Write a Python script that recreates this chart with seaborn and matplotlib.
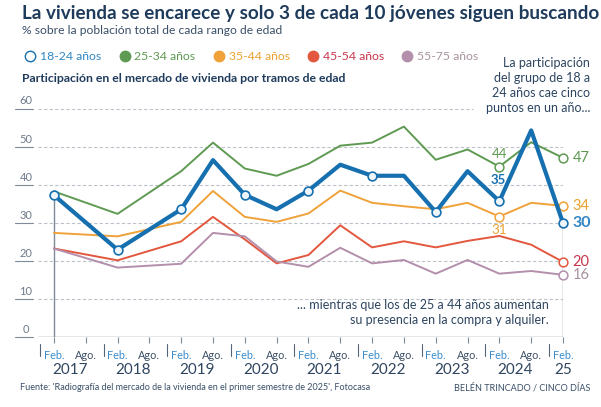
import numpy as np
import pandas as pd
import matplotlib.pyplot as plt
import seaborn as sns
from matplotlib.lines import Line2D
from matplotlib.transforms import blended_transform_factory

# datos (% sobre la población de cada tramo)
periods = ["2017-02", "2018-02", "2019-02", "2019-08", "2020-02", "2020-08",
           "2021-02", "2021-08", "2022-02", "2022-08", "2023-02", "2023-08",
           "2024-02", "2024-08", "2025-02"]
p18_24 = [37.3, 23.0, 33.6, 46.5, 37.4, 33.6, 38.5, 45.3, 42.4, 42.4, 32.9, 43.6, 35.7, 54.3, 30.0]
p25_34 = [38.3, 32.4, 43.6, 51.1, 44.3, 42.4, 45.5, 50.3, 51.1, 55.3, 46.6, 49.3, 44.8, 51.2, 47.1]
p35_44 = [27.4, 26.5, 30.3, 38.4, 31.6, 30.3, 32.5, 38.5, 35.3, 34.4, 33.6, 35.3, 31.7, 35.3, 34.5]
p45_54 = [23.3, 20.2, 25.2, 31.6, 25.7, 19.4, 21.6, 29.4, 23.6, 25.2, 23.6, 25.3, 26.6, 24.3, 19.8]
p55_75 = [23.3, 18.3, 19.3, 27.4, 26.5, 19.9, 18.5, 23.5, 19.4, 20.3, 16.7, 20.3, 16.7, 17.4, 16.4]

groups = ["18-24 años", "25-34 años", "35-44 años", "45-54 años", "55-75 años"]
end_labels = ["30", "47", "34", "20", "16"]
tick_labels = ["Feb.", "Ago."] * 8 + ["Feb."]
year_labels = ["2017", "2018", "2019", "2020", "2021", "2022", "2023", "2024", "25"]
yticks = [0, 10, 20, 30, 40, 50, 60]

line_colors = ["#1670b0", "#5f9a52", "#f0a23a", "#e2573d", "#b38fab"]
text_colors = ["#2f86c4", "#5f9a52", "#e9a12f", "#c8364c", "#a8929f"]
navy = "#1f3b5c"
grey = "#7f8a98"

t = [(int(p[:4]) - 2017) * 2 + (1 if p[5:] == "08" else 0) for p in periods]
df = pd.concat([pd.DataFrame({"t": t, "valor": v, "grupo": g})
                for g, v in zip(groups, [p18_24, p25_34, p35_44, p45_54, p55_75])])

sns.set_style("white")
plt.rcParams["font.family"] = ["Lato", "DejaVu Sans"]

W, H = 601, 407
fig = plt.figure(figsize=(W / 100, H / 100), dpi=100)
fx = lambda px: px / W
fy = lambda py: 1 - py / H
ax = fig.add_axes([fx(38), fy(337.3), fx(563 - 38), (337.3 - 108.7) / H])
ax.set_xlim(-0.5, 16)
ax.set_ylim(0, 60)
for s in ax.spines.values():
    s.set_visible(False)

# rejilla y etiquetas del eje y
by = blended_transform_factory(fig.transFigure, ax.transData)
for v in yticks:
    if v == 0:
        ax.axhline(0, color=grey, lw=1.0, zorder=1)
    else:
        xmax = (473 - 38) / 525 if v == 60 else 1
        ax.axhline(v, xmax=xmax, color="#bcc2cb", lw=0.8, ls=(0, (3, 2)), zorder=0)
    ax.plot([fx(15), fx(33)], [v, v], transform=by, color=grey, lw=0.8, clip_on=False)
    ax.text(fx(26), v + 0.6, str(v), transform=by, ha="center", va="bottom",
            fontsize=8, color="#6d7a8a")

# líneas verticales de inicio y final
ax.vlines([t[0], t[-1]], 0, [p18_24[0], p18_24[-1]], color=grey, lw=1.0, zorder=1)

# series
for i, g in enumerate(groups):
    d = df[df["grupo"] == g]
    sns.lineplot(data=d, x="t", y="valor", ax=ax, color=line_colors[i],
                 lw=3.0 if i == 0 else 1.4, legend=False, zorder=5 if i == 0 else 3,
                 clip_on=False)

# marcadores huecos
feb = df[(df["grupo"] == groups[0]) & (df["t"] % 2 == 0)]
ax.scatter(feb["t"], feb["valor"], s=40, facecolor="#eef5fb", edgecolor=line_colors[0],
           lw=1.2, zorder=6, clip_on=False)
for i, g in enumerate(groups[1:], start=1):
    d = df[df["grupo"] == g]
    sel = d[d["t"].isin([14, 16] if i < 3 else [16])]
    ax.scatter(sel["t"], sel["valor"], s=40, facecolor="white", edgecolor=line_colors[i],
               lw=1.1, zorder=4, clip_on=False)

# etiquetas finales
for i, (g, lab) in enumerate(zip(groups, end_labels)):
    v = df[df["grupo"] == g]["valor"].iloc[-1]
    ax.annotate(lab, (t[-1], v), xytext=(7, 0), textcoords="offset points",
                va="center", ha="left", fontsize=11.5 if i == 0 else 10.5,
                fontweight="bold" if i == 0 else "normal", color=text_colors[i],
                annotation_clip=False)
ax.annotate("44", (t[-3], p25_34[-3]), xytext=(0, 9), textcoords="offset points",
            ha="center", va="center", fontsize=9.5, color=line_colors[1])
ax.annotate("35", (t[-3], p18_24[-3]), xytext=(-1, 15.5), textcoords="offset points",
            ha="center", va="center", fontsize=9.5, fontweight="bold", color=line_colors[0])
ax.annotate("31", (t[-3], p35_44[-3]), xytext=(0, -10), textcoords="offset points",
            ha="center", va="center", fontsize=9.5, color="#e9a12f")

# eje x
ax.set_xticks(range(17))
ax.set_xticklabels(tick_labels, fontsize=7.8)
for k, lab in enumerate(ax.get_xticklabels()):
    lab.set_color("#3a8ccc" if k % 2 == 0 else "#3d4f66")
ax.tick_params(axis="x", length=4, width=0.8, color=grey, pad=5, bottom=True)
ax.set_yticks([])
ax.set_xlabel("")
ax.set_ylabel("")
bx = blended_transform_factory(ax.transData, fig.transFigure)
for k, yl in enumerate(year_labels):
    xs = 2 * k - 0.44
    ax.plot([xs, xs], [fy(344), fy(356)], transform=bx, color="#56657a", lw=0.8, clip_on=False)
    ax.text(2 * k + (0.5 if k < 8 else 0), fy(370), yl, transform=bx, ha="center",
            va="center", fontsize=11, color="#2f4560")

# textos
fig.text(fx(22), fy(13), "La vivienda se encarece y solo 3 de cada 10 jóvenes siguen buscando",
         fontsize=13.6, fontweight="bold", color=navy, va="center")
fig.text(fx(22), fy(31), "% sobre la población total de cada rango de edad",
         fontsize=8.7, color="#3a4f68", va="center")
fig.text(fx(22), fy(79), "Participación en el mercado de vivienda por tramos de edad",
         fontsize=8.8, fontweight="bold", color=navy, va="center")

handles = [Line2D([], [], ls="", marker="o", markersize=7.5,
                  markerfacecolor="white" if i == 0 else line_colors[i],
                  markeredgecolor=line_colors[i], markeredgewidth=1.0)
           for i in range(len(groups))]
fig.legend(handles, groups, loc="center left", bbox_to_anchor=(fx(17), fy(57)), ncol=5,
           frameon=False, fontsize=8.8, handletextpad=0.1, columnspacing=1.2,
           labelcolor=text_colors, borderaxespad=0, handlelength=1.4)

fig.text(fx(590), fy(57), "La participación\ndel grupo de 18 a\n24 años cae cinco\npuntos en un año...",
         ha="right", va="top", fontsize=9, color="#2d4560", linespacing=1.3)
fig.text(fx(549), fy(299), "... mientras que los de 25 a 44 años aumentan\nsu presencia en la compra y alquiler.",
         ha="right", va="top", fontsize=9, color="#2d4560", linespacing=1.3)
fig.text(fx(20), fy(388), "Fuente: 'Radiografía del mercado de la vivienda en el primer semestre de 2025', Fotocasa",
         fontsize=6.5, color="#3a4f68", va="center")
fig.text(fx(590), fy(388), "BELÉN TRINCADO / CINCO DÍAS", fontsize=6.5, color="#3a4f68",
         va="center", ha="right")

fig.savefig("out.png", dpi=100)
